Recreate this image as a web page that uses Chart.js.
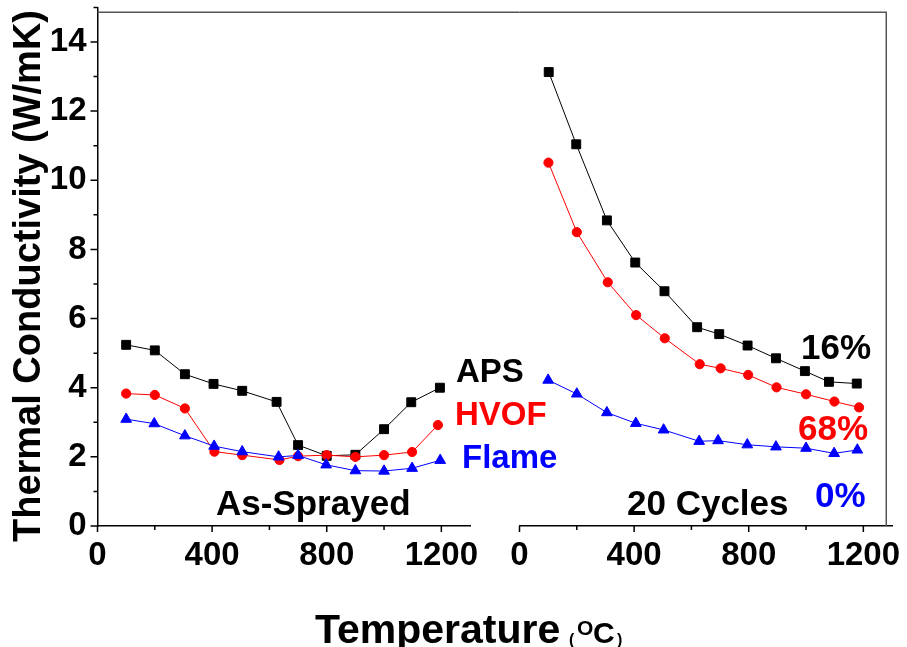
<!DOCTYPE html>
<html>
<head>
<meta charset="utf-8">
<title>Thermal Conductivity vs Temperature</title>
<script src="https://cdn.jsdelivr.net/npm/chart.js@4.4.0/dist/chart.umd.min.js"></script>
<style>
  html, body { margin: 0; padding: 0; background: #fff; }
  #wrap { position: relative; width: 907px; height: 647px; }
  #wrap canvas { position: absolute; left: 0; top: 0; }
</style>
</head>
<body>
<div id="wrap">
  <canvas id="sprayed" width="907" height="647"></canvas>
  <canvas id="cycled" width="907" height="647"></canvas>
</div>
<script>
// As-sprayed coatings (temperature in C, conductivity in W/mK)
const apsSprayT   = [100, 200, 305, 405, 505, 625, 700, 800, 900, 1000, 1095, 1195];
const apsSprayK   = [5.24, 5.08, 4.39, 4.11, 3.91, 3.59, 2.34, 2.03, 2.06, 2.80, 3.58, 4.00];
const hvofSprayT  = [100, 200, 305, 408, 505, 635, 700, 800, 900, 1000, 1098, 1188];
const hvofSprayK  = [3.83, 3.79, 3.40, 2.15, 2.05, 1.91, 2.02, 2.05, 2.00, 2.05, 2.14, 2.92];
const flameSprayT = [100, 198, 305, 407, 505, 632, 700, 798, 900, 1000, 1098, 1196];
const flameSprayK = [3.09, 2.96, 2.61, 2.31, 2.15, 2.00, 2.04, 1.77, 1.60, 1.59, 1.67, 1.90];

// After 20 thermal cycles
const apsCycT   = [102, 198, 305, 404, 506, 620, 697, 796, 895, 996, 1080, 1177];
const apsCycK   = [13.13, 11.04, 8.84, 7.62, 6.79, 5.75, 5.55, 5.22, 4.85, 4.48, 4.17, 4.12];
const hvofCycT  = [101, 200, 308, 407, 507, 629, 702, 798, 897, 1000, 1099, 1185];
const hvofCycK  = [10.51, 8.50, 7.05, 6.10, 5.43, 4.68, 4.56, 4.37, 4.01, 3.81, 3.60, 3.43];
const flameCycT = [100, 200, 305, 406, 503, 627, 693, 795, 895, 1000, 1098, 1179];
const flameCycK = [4.22, 3.82, 3.28, 2.97, 2.78, 2.45, 2.47, 2.35, 2.29, 2.25, 2.10, 2.20];

// Axis ticks
const xTicks = [0, 200, 400, 600, 800, 1000, 1200];
const yTicks = [0, 1, 2, 3, 4, 5, 6, 7, 8, 9, 10, 11, 12, 13, 14, 15];
const xMax = 1300;
const yMax = 15;

// Text drawn on the plot
const processNames = ['APS', 'HVOF', 'Flame'];
const panelNames = ['As-Sprayed', '20 Cycles'];
const retained = ['16%', '68%', '0%'];

const FONT = "'Liberation Sans', Arial, Helvetica, sans-serif";
const COLORS = ['#000000', '#ff0000', '#0000ff'];
const MARKERS = [
  { style: 'rect', radius: 6.3 },
  { style: 'circle', radius: 4.6 },
  { style: 'triangle', radius: 6.2 }
];

// panel placement on the page (pixels)
const PAGE_W = 907, PAGE_H = 647;
const LEFT_PANEL = { left: 97.5, right: 470 };
const RIGHT_PANEL = { left: 519.5, right: 892 };
const PLOT_TOP = 7.4, PLOT_BOTTOM = 526;
const FRAME_TOP = 14.86;    // y value where the outer box closes
const FRAME_RIGHT = 1280;   // x value of the box's right edge

function toPoints(xs, ys) {
  return xs.map((x, i) => ({ x: x, y: ys[i] }));
}

function makeDataset(name, xs, ys, idx) {
  return {
    label: name,
    data: toPoints(xs, ys),
    borderColor: COLORS[idx],
    backgroundColor: COLORS[idx],
    borderWidth: 1,
    pointStyle: MARKERS[idx].style,
    pointRadius: MARKERS[idx].radius,
    pointBorderWidth: 1,
    pointBorderColor: COLORS[idx],
    pointBackgroundColor: COLORS[idx],
    tension: 0,
    order: 3 - idx   // later series sit on top
  };
}

// short/long tick marks drawn off the scales
const tickMarks = {
  id: 'tickMarks',
  afterDraw(chart) {
    const ctx = chart.ctx;
    const x = chart.scales.x, y = chart.scales.y;
    ctx.save();
    ctx.strokeStyle = '#000';
    ctx.lineWidth = 1.5;
    ctx.beginPath();
    xTicks.forEach(v => {
      const px = x.getPixelForValue(v);
      const len = v % 400 === 0 ? 6 : 4;
      ctx.moveTo(px, x.top);
      ctx.lineTo(px, x.top + len);
    });
    if (y.options.display) {
      yTicks.forEach(v => {
        const py = y.getPixelForValue(v);
        const len = v % 2 === 0 ? 7 : 4;
        ctx.moveTo(y.right, py);
        ctx.lineTo(y.right - len, py);
      });
    }
    ctx.stroke();
    ctx.restore();
  }
};

// grey outer box: top edge across both panels, right edge on the cycled panel
const frame = {
  id: 'frame',
  afterDraw(chart, args, opts) {
    const ctx = chart.ctx;
    const area = chart.chartArea;
    const top = chart.scales.y.getPixelForValue(FRAME_TOP);
    ctx.save();
    ctx.strokeStyle = '#555';
    ctx.lineWidth = 1.5;
    ctx.beginPath();
    if (opts.closeRight) {
      const right = chart.scales.x.getPixelForValue(FRAME_RIGHT);
      ctx.moveTo(area.left, top);
      ctx.lineTo(right, top);
      ctx.lineTo(right, area.bottom);
    } else {
      ctx.moveTo(area.left, top);
      ctx.lineTo(RIGHT_PANEL.left, top);
    }
    ctx.stroke();
    ctx.restore();
  }
};

// free text: process names, panel names, retained-porosity notes, axis titles
const notes = {
  id: 'notes',
  afterDraw(chart) {
    const ctx = chart.ctx;
    ctx.save();
    ctx.textBaseline = 'alphabetic';
    ctx.textAlign = 'left';
    const put = (txt, x, y, size, color) => {
      ctx.font = 'bold ' + size + 'px ' + FONT;
      ctx.fillStyle = color;
      ctx.fillText(txt, x, y);
    };
    put(processNames[0], 456, 382, 33, COLORS[0]);
    put(processNames[1], 455, 425, 33, COLORS[1]);
    put(processNames[2], 462, 468, 33, COLORS[2]);
    put(panelNames[0], 216, 515, 35, '#000');
    put(panelNames[1], 627, 515, 35, '#000');
    put(retained[0], 801, 359, 35, COLORS[0]);
    put(retained[1], 798, 440, 35, COLORS[1]);
    put(retained[2], 815, 507, 35, COLORS[2]);

    // x title with a small superscript O
    put('Temperature', 315, 643, 41, '#000');
    put('(', 569, 645, 16, '#000');
    put('O', 577, 635, 21, '#000');
    put('C', 593, 643, 30, '#000');
    put(')', 617, 645, 16, '#000');

    // y title
    ctx.translate(40, 276);
    ctx.rotate(-Math.PI / 2);
    ctx.textAlign = 'center';
    put('Thermal Conductivity (W/mK)', 0, 0, 38, '#000');
    ctx.restore();
  }
};

function makePanel(canvasId, datasets, panel, withYAxis, plugins) {
  return new Chart(document.getElementById(canvasId), {
    type: 'line',
    data: { datasets: datasets },
    options: {
      responsive: false,
      animation: false,
      layout: {
        padding: {
          left: withYAxis ? 0 : panel.left,
          right: PAGE_W - panel.right,
          top: PLOT_TOP,
          bottom: 0
        }
      },
      plugins: {
        legend: { display: false },
        tooltip: { enabled: false },
        frame: { closeRight: !withYAxis }
      },
      scales: {
        x: {
          type: 'linear',
          min: 0,
          max: xMax,
          afterBuildTicks: s => { s.ticks = xTicks.map(v => ({ value: v })); },
          afterFit: s => {
            s.height = PAGE_H - PLOT_BOTTOM;
            s.paddingLeft = 0;
            s.paddingRight = 0;
          },
          grid: { display: false, drawTicks: true, tickLength: 6 },
          border: { display: true, color: '#000', width: 1.5 },
          ticks: {
            padding: 4,
            maxRotation: 0,
            autoSkip: false,
            color: '#000',
            font: { family: FONT, size: 33, weight: 'bold' },
            callback: v => (v % 400 === 0 ? String(v) : '')
          }
        },
        y: {
          display: withYAxis,
          min: 0,
          max: yMax,
          afterBuildTicks: s => { s.ticks = yTicks.map(v => ({ value: v })); },
          afterFit: s => {
            if (withYAxis) s.width = panel.left;
            s.paddingTop = 0;
            s.paddingBottom = 0;
          },
          grid: { display: false, drawTicks: true, tickLength: 7 },
          border: { display: true, color: '#000', width: 1.5 },
          ticks: {
            padding: 4,
            autoSkip: false,
            color: '#000',
            font: { family: FONT, size: 33, weight: 'bold' },
            callback: v => (v % 2 === 0 ? String(v) : '')
          }
        }
      }
    },
    plugins: plugins
  });
}

makePanel('sprayed', [
  makeDataset('APS', apsSprayT, apsSprayK, 0),
  makeDataset('HVOF', hvofSprayT, hvofSprayK, 1),
  makeDataset('Flame', flameSprayT, flameSprayK, 2)
], LEFT_PANEL, true, [tickMarks, frame]);

makePanel('cycled', [
  makeDataset('APS', apsCycT, apsCycK, 0),
  makeDataset('HVOF', hvofCycT, hvofCycK, 1),
  makeDataset('Flame', flameCycT, flameCycK, 2)
], RIGHT_PANEL, false, [tickMarks, frame, notes]);
</script>
</body>
</html>
